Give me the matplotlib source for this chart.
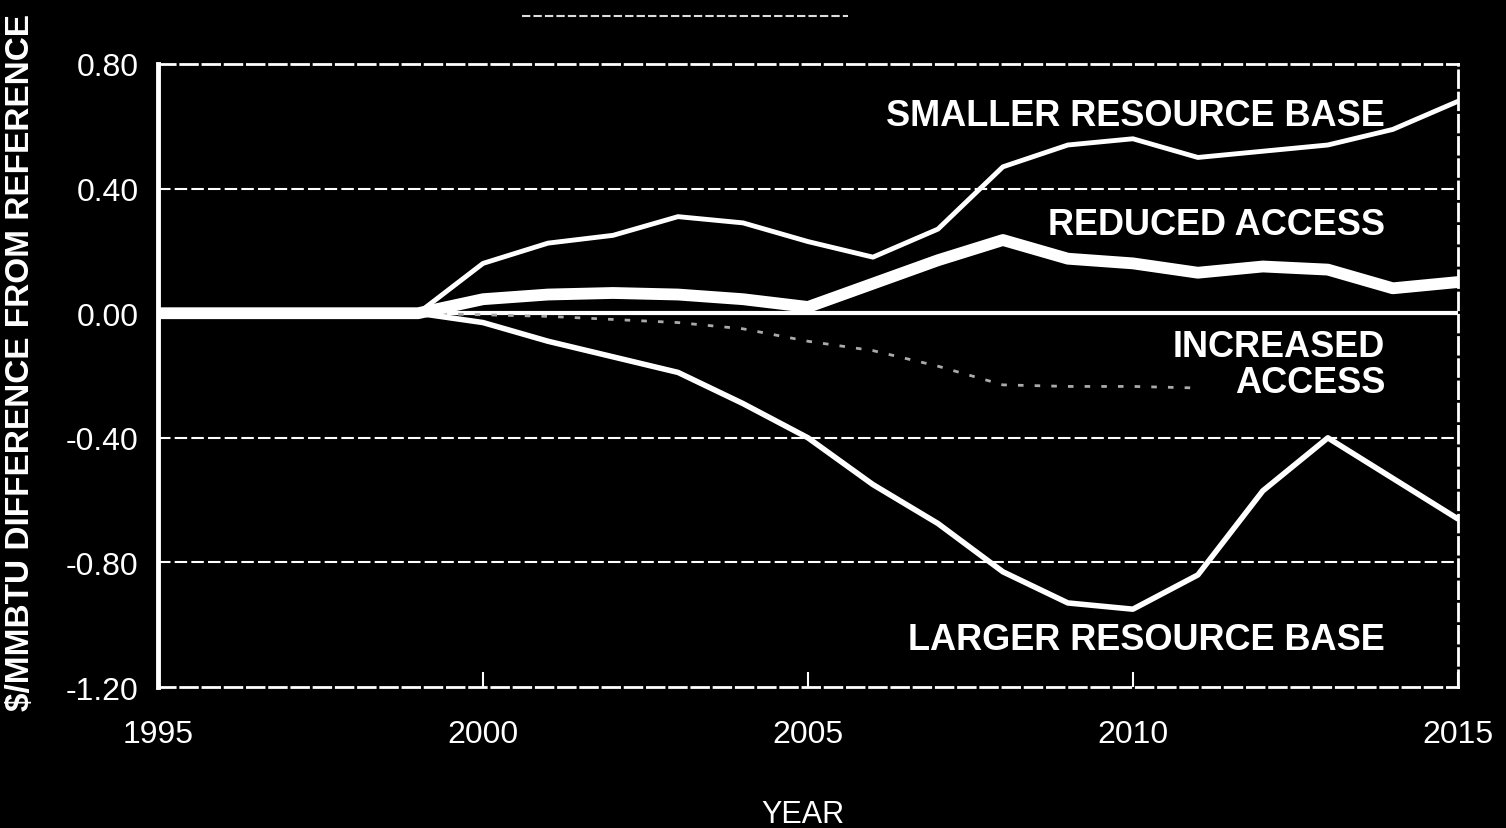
import numpy as np
import matplotlib
matplotlib.use("Agg")
import matplotlib.pyplot as plt
from matplotlib.lines import Line2D

plt.rcParams['font.family'] = ['Liberation Sans', 'DejaVu Sans']

# values ($/MMBTU difference from reference)
years = list(range(1995, 2016))
smaller_base = [0, 0, 0, 0, 0, 0.16, 0.225, 0.25, 0.31, 0.29, 0.23,
                0.18, 0.27, 0.47, 0.54, 0.56, 0.50, 0.52, 0.54, 0.59, 0.68]
reduced_access = [0, 0, 0, 0, 0, 0.045, 0.06, 0.065, 0.06, 0.045, 0.02,
                  0.095, 0.17, 0.235, 0.175, 0.16, 0.13, 0.15, 0.14, 0.08, 0.10]
increased_access = [0, 0, 0, 0, 0, -0.005, -0.01, -0.02, -0.03, -0.05, -0.09,
                    -0.12, -0.17, -0.23, -0.235, -0.235, -0.24,
                    np.nan, np.nan, np.nan, np.nan]
larger_base = [0, 0, 0, 0, 0, -0.03, -0.09, -0.14, -0.19, -0.29, -0.40,
               -0.55, -0.675, -0.83, -0.93, -0.95, -0.84, -0.57, -0.40, -0.53, -0.66]

y_ticks = [0.80, 0.40, 0.00, -0.40, -0.80, -1.20]
y_tick_labels = ["0.80", "0.40", "0.00", "-0.40", "-0.80", "-1.20"]
x_ticks = [1995, 2000, 2005, 2010, 2015]

fig = plt.figure(figsize=(15.06, 8.29), dpi=100, facecolor="black")
ax = fig.add_axes([0.105, 0.170, 0.863, 0.7516], facecolor="black")

# grid lines
for v in [0.40, -0.40, -0.80]:
    ax.axhline(v, color="white", lw=1.5, ls=(0, (6, 2)), zorder=1)
ax.axhline(0, color="white", lw=3, zorder=2)

ax.plot(years, increased_access, color="#aaaaaa", lw=2, ls=(0, (2, 4)), zorder=3)
ax.plot(years, larger_base, color="white", lw=4, solid_capstyle="round", zorder=4)
ax.plot(years, smaller_base, color="white", lw=3.5, solid_capstyle="round", zorder=4)
ax.plot(years, reduced_access, color="white", lw=8.5, solid_capstyle="round", zorder=5)

ax.set_xlim(1995, 2015)
ax.set_ylim(-1.20, 0.80)

for side in ["top", "right", "bottom"]:
    ax.spines[side].set_color("white")
    ax.spines[side].set_linewidth(2)
    ax.spines[side].set_linestyle((0, (6, 2)))
ax.spines["left"].set_color("white")
ax.spines["left"].set_linewidth(3.5)

ax.set_yticks(y_ticks)
ax.set_yticklabels(y_tick_labels)
ax.set_xticks(x_ticks)
ax.tick_params(axis="y", length=0, pad=14, labelsize=23, labelcolor="white")
ax.tick_params(axis="x", direction="in", length=11, width=1.5, color="white",
               pad=23, labelsize=23, labelcolor="white")

ax.set_ylabel("$/MMBTU DIFFERENCE FROM REFERENCE", color="white",
              fontsize=24, fontweight="bold")
ax.yaxis.set_label_coords(-0.094, 0.523)
ax.set_xlabel("YEAR", color="white", fontsize=22)
ax.xaxis.set_label_coords(0.496, -0.18)

label_style = dict(color="white", fontsize=26, fontweight="bold", ha="right",
                   va="center", transform=ax.transAxes)
ax.text(0.944, 0.918, "SMALLER RESOURCE BASE", **label_style)
ax.text(0.944, 0.743, "REDUCED ACCESS", **label_style)
ax.text(0.944, 0.518, "INCREASED\nACCESS", linespacing=1.05, **label_style)
ax.text(0.944, 0.077, "LARGER RESOURCE BASE", **label_style)

# faded rule at the top of the page
fig.add_artist(Line2D([522 / 1506, 848 / 1506], [1 - 17 / 829, 1 - 17 / 829],
                      color="#dddddd", lw=1.5, ls=(0, (4, 1.5))))

fig.savefig("out.png", dpi=100, facecolor="black")
plt.close(fig)
